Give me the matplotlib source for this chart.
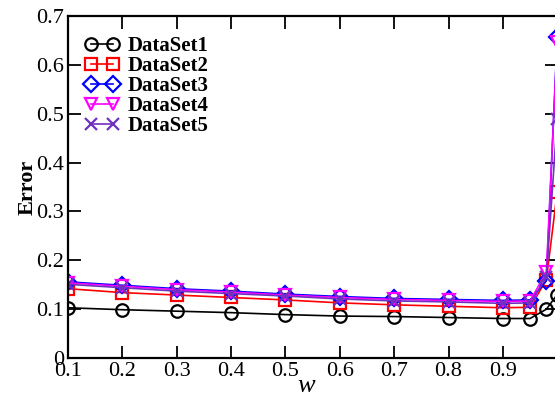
import matplotlib
matplotlib.use("Agg")
import matplotlib.pyplot as plt

# values
w = [0.1, 0.2, 0.3, 0.4, 0.5, 0.6, 0.7, 0.8, 0.9, 0.95, 0.98, 1.0]
ds1 = [0.103, 0.099, 0.096, 0.093, 0.089, 0.086, 0.085, 0.083, 0.081, 0.081, 0.100, 0.130]
ds2 = [0.142, 0.134, 0.129, 0.124, 0.119, 0.113, 0.109, 0.106, 0.103, 0.104, 0.160, 0.340]
ds3 = [0.156, 0.149, 0.142, 0.137, 0.131, 0.126, 0.122, 0.120, 0.118, 0.119, 0.158, 0.657]
ds4 = [0.154, 0.147, 0.140, 0.135, 0.129, 0.124, 0.120, 0.118, 0.116, 0.117, 0.176, 0.647]
ds5 = [0.151, 0.144, 0.137, 0.132, 0.127, 0.121, 0.117, 0.115, 0.112, 0.113, 0.165, 0.490]

labels = ['DataSet1', 'DataSet2', 'DataSet3', 'DataSet4', 'DataSet5']
series = [ds1, ds2, ds3, ds4, ds5]
colors = ['black', 'red', 'blue', 'magenta', '#7030c0']
markers = ['o', 's', 'D', 'v', 'x']
sizes = [9, 8.5, 8.5, 9, 9]

plt.rcParams['font.family'] = ['Liberation Serif', 'DejaVu Serif']

fig = plt.figure(figsize=(5.55, 3.97), dpi=100)
ax = fig.add_axes([0.1225, 0.098, 0.8815, 0.8617])

for ys, lab, c, m, s in zip(series, labels, colors, markers, sizes):
    ax.plot(w, ys, color=c, marker=m, markersize=s, markerfacecolor='none',
            markeredgecolor=c, markeredgewidth=1.6, linewidth=1.2, label=lab)

ax.set_xlim(0.1, 1.0)
ax.set_ylim(0, 0.7)
ax.set_xticks([0.1, 0.2, 0.3, 0.4, 0.5, 0.6, 0.7, 0.8, 0.9])
ax.set_xticklabels(['0.1', '0.2', '0.3', '0.4', '0.5', '0.6', '0.7', '0.8', '0.9'])
ax.set_yticks([0, 0.1, 0.2, 0.3, 0.4, 0.5, 0.6, 0.7])
ax.set_yticklabels(['0', '0.1', '0.2', '0.3', '0.4', '0.5', '0.6', '0.7'])
ax.tick_params(direction='in', length=9, width=1.3, top=True, right=True,
               labelsize=16, pad=3)
for sp in ax.spines.values():
    sp.set_linewidth(1.6)

ax.set_xlabel('w', fontsize=19, style='italic')
ax.xaxis.set_label_coords(0.487, -0.049)
ax.set_ylabel('Error', fontsize=16, fontweight='bold')
ax.yaxis.set_label_coords(-0.062, 0.5)

ax.legend(loc='upper left', numpoints=2, frameon=False,
          prop={'weight': 'bold', 'size': 15}, handlelength=1.66,
          handletextpad=0.38, labelspacing=0.0, borderaxespad=0.0,
          bbox_to_anchor=(0.018, 0.965))

fig.savefig('out.png', dpi=100)
